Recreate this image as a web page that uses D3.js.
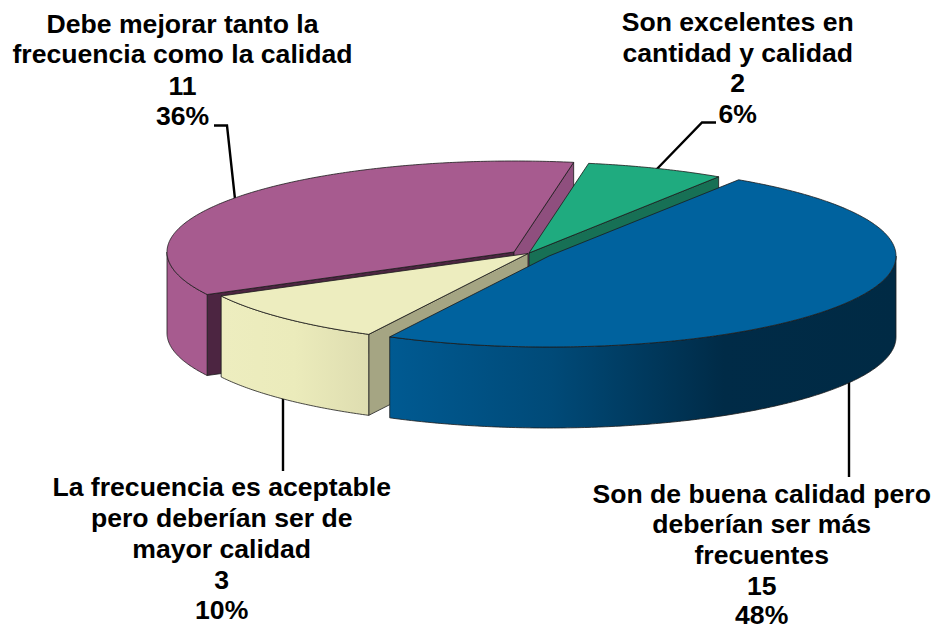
<!DOCTYPE html>
<html>
<head>
<meta charset="utf-8">
<script src="https://cdn.jsdelivr.net/npm/d3@7/dist/d3.min.js"></script>
<style>
html,body{margin:0;padding:0;background:#fff;overflow:hidden;}
svg{display:block;}
text{font-family:"Liberation Sans",Arial,sans-serif;font-weight:bold;fill:#000;}
</style>
</head>
<body>
<svg id="chart" width="937" height="626"></svg>
<script>
// ---- data ----
const categories = [
  ["Son excelentes en", "cantidad y calidad"],
  ["Son de buena calidad pero", "deberían ser más", "frecuentes"],
  ["La frecuencia es aceptable", "pero deberían ser de", "mayor calidad"],
  ["Debe mejorar tanto la", "frecuencia como la calidad"]
];
const values = [2, 15, 3, 11];
const percentLabels = ["6%", "48%", "10%", "36%"];

// ---- styles / layout (separate from the data) ----
const topColors    = ["#1FAB7F", "#00629E", "#EDEDBF", "#A75B8F"];
const radialColors = ["#177055", "#003A5C", "#A5A583", "#8F4F7E"];
const radialColorsStart = ["#177055", "#003A5C", "#A5A583", "#4C2541"];
const wallStops = [
  [[0, "#177055"], [1, "#177055"]],
  [[0, "#005A92"], [0.32, "#004A78"], [0.66, "#002B47"], [1, "#002A44"]],
  [[0, "#EDEDBF"], [0.5, "#EBEBBB"], [1, "#DEDDB0"]],
  [[0, "#A75B8F"], [1, "#A75B8F"]]
];
const centreX = [529, 549, 528, 514];
const centreY = [253, 256, 253.5, 252];
const rx = 347, ry = 91, depth = 81;
const startDeg = 9.9;

const labelX = [737.7, 761.7, 221.7, 182.5];
const labelBaselines = [
  [31, 62, 92, 123],
  [502.7, 533, 564, 595, 624],
  [496, 527, 558, 589, 619],
  [32.5, 63, 95, 125]
];
const leaders = [
  [[716, 122.5], [702, 122.5], [655, 171]],
  [[849, 381], [849, 477]],
  [[283, 398], [283, 471]],
  [[214, 125.5], [227, 125.5], [235, 199]]
];

const svg = d3.select("#chart");
const defs = svg.append("defs");

const arcs = d3.pie().sort(null)
  .startAngle(startDeg * Math.PI / 180)
  .endAngle((startDeg + 360) * Math.PI / 180)(values);

const unit = d3.scaleLinear().domain([-1, 1]);
const sx = i => unit.copy().range([centreX[i] - rx, centreX[i] + rx]);
const sy = i => unit.copy().range([centreY[i] - ry, centreY[i] + ry]);

const pt = (i, a, dz = 0) => [sx(i)(Math.sin(a)), sy(i)(-Math.cos(a)) + dz];
const line = d3.line();
const samples = (a0, a1) => {
  const n = Math.max(2, Math.ceil(Math.abs(a1 - a0) / 0.01));
  return d3.range(n + 1).map(k => a0 + (a1 - a0) * k / n);
};

// leader lines sit behind the pie
const leaderG = svg.append("g");
leaders.forEach(p => leaderG.append("path")
  .attr("d", line(p)).attr("fill", "none")
  .attr("stroke", "#000").attr("stroke-width", 2.4));

const edge = "#1c1c1c";
const drawOrder = [3, 0, 2, 1];
const pieG = svg.append("g");

drawOrder.forEach(i => {
  const d = arcs[i], a0 = d.startAngle, a1 = d.endAngle;
  const g = pieG.append("g");
  const c = [centreX[i], centreY[i]];

  // radial walls facing the viewer
  if (-Math.sin(a0) > 0) {
    const p = pt(i, a0);
    g.append("path")
      .attr("d", line([c, p, [p[0], p[1] + depth], [c[0], c[1] + depth]]) + "Z")
      .attr("fill", radialColorsStart[i]).attr("stroke", edge).attr("stroke-width", 0.8);
  }
  if (Math.sin(a1) > 0) {
    const p = pt(i, a1);
    g.append("path")
      .attr("d", line([c, p, [p[0], p[1] + depth], [c[0], c[1] + depth]]) + "Z")
      .attr("fill", radialColors[i]).attr("stroke", edge).attr("stroke-width", 0.8);
  }

  // outer wall: only the part of the rim on the near side
  const tau = 2 * Math.PI;
  [[Math.PI / 2, 3 * Math.PI / 2], [Math.PI / 2 + tau, 3 * Math.PI / 2 + tau]].forEach(([lo, hi]) => {
    const w0 = Math.max(a0, lo), w1 = Math.min(a1, hi);
    if (w1 <= w0) return;
    const upper = samples(w0, w1).map(a => pt(i, a));
    const lower = samples(w1, w0).map(a => pt(i, a, depth));
    const ext = d3.extent(upper, p => p[0]);
    const id = "wall" + i;
    const grad = defs.append("linearGradient").attr("id", id)
      .attr("gradientUnits", "userSpaceOnUse")
      .attr("x1", ext[1]).attr("x2", ext[0]).attr("y1", 0).attr("y2", 0);
    const stops = i === 1 ? wallStops[i].map(s => [1 - s[0], s[1]]).reverse() : wallStops[i].map(s => [1 - s[0], s[1]]).reverse();
    grad.attr("x1", ext[0]).attr("x2", ext[1]);
    wallStops[i].forEach(s => grad.append("stop").attr("offset", s[0]).attr("stop-color", s[1]));
    g.append("path")
      .attr("d", line(upper.concat(lower)) + "Z")
      .attr("fill", `url(#${id})`).attr("stroke", edge).attr("stroke-width", 0.8);
  });

  // top face
  const rim = samples(a0, a1).map(a => pt(i, a));
  g.append("path")
    .attr("d", line([c].concat(rim)) + "Z")
    .attr("fill", topColors[i]).attr("stroke", edge).attr("stroke-width", 0.8)
    .attr("stroke-linejoin", "round");
});

// labels
const labelG = svg.append("g");
categories.forEach((cat, i) => {
  const lines = cat.concat([String(values[i]), percentLabels[i]]);
  const t = labelG.append("text")
    .attr("text-anchor", "middle")
    .attr("font-size", 26.6);
  lines.forEach((s, k) => t.append("tspan")
    .attr("x", labelX[i]).attr("y", labelBaselines[i][k]).text(s));
});
</script>
</body>
</html>
